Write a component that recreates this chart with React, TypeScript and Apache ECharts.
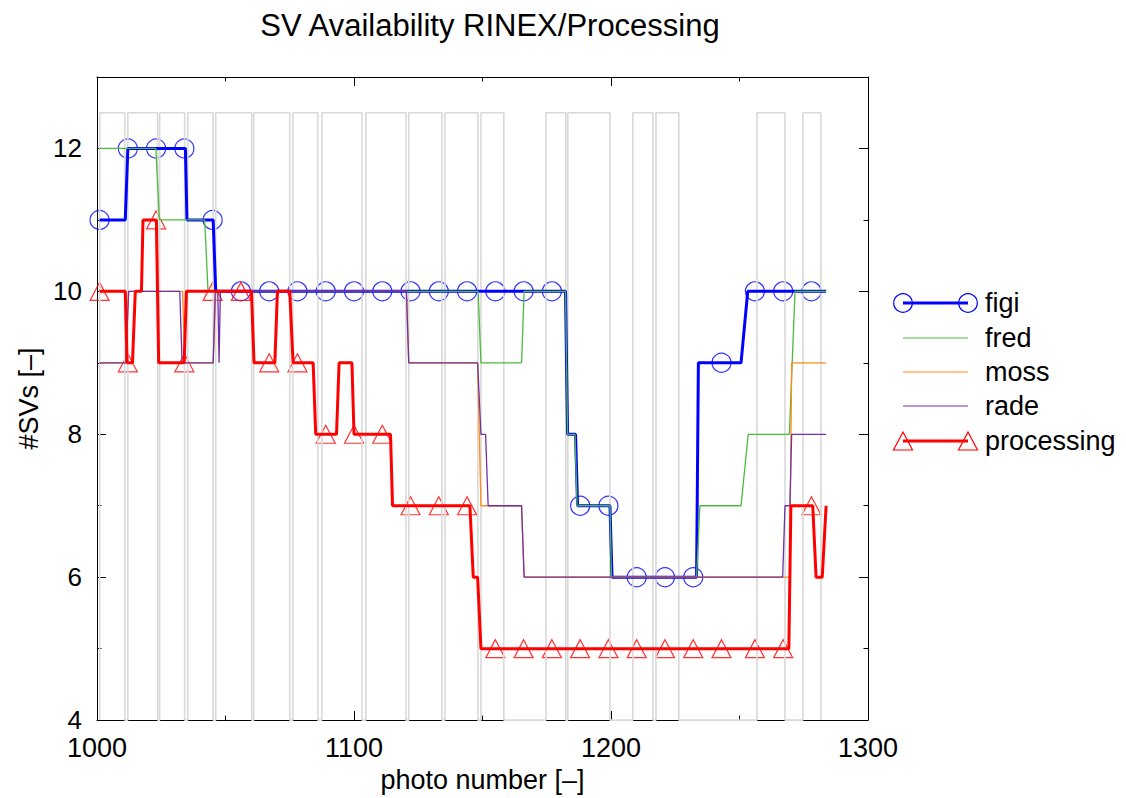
import React, { useEffect, useRef } from "react";
import * as echarts from "echarts";

// ---- data ----
const xMin = 1000;
const xMax = 1300;
const xStep = 100;
const yMin = 4;
const yMax = 13;
const yStep = 2;

// grey data blocks (photo-number ranges), drawn as a step outline at level blockTop
const blockTop = 12.5;
const blockStart = [1001.05, 1012.0, 1024.4, 1035.3, 1046.2, 1061.0, 1076.2, 1087.5, 1104.6, 1121.3, 1135.4, 1149.4, 1174.7, 1183.2, 1208.5, 1217.5, 1256.8, 1274.7];
const blockEnd = [1010.8, 1023.6, 1034.1, 1045.2, 1060.2, 1075.0, 1085.9, 1103.1, 1120.2, 1134.2, 1148.2, 1158.3, 1182.4, 1199.6, 1216.3, 1226.4, 1267.7, 1281.7];

const figiX = [1001, 1011, 1012, 1034.4, 1035, 1045.2, 1046.2, 1182.3, 1183.1, 1186.2, 1187, 1199.6, 1200.4, 1233.3, 1234, 1250.6, 1253.2, 1283.7];
const figiY = [11, 11, 12, 12, 11, 11, 10, 10, 8, 8, 7, 7, 6, 6, 9, 9, 10, 10];

const fredX = [1001, 1022.9, 1024.3, 1041.9, 1043.2, 1148.3, 1149.4, 1165.2, 1166.2, 1182.3, 1183.1, 1186, 1186.8, 1199.6, 1200.2, 1233.3, 1234.6, 1250.6, 1253.4, 1269.4, 1271.6, 1283.7];
const fredY = [12, 12, 11, 11, 10, 10, 9, 9, 10, 10, 8, 8, 7, 7, 6, 6, 7, 7, 8, 8, 10, 10];

const mossX = [1001, 1011.2, 1012.3, 1033.3, 1034.2, 1045.2, 1046.2, 1120.4, 1121.3, 1148.1, 1149.4, 1165.2, 1166.2, 1269.5, 1270.3, 1283.7];
const mossY = [9, 9, 10, 10, 9, 9, 10, 10, 9, 9, 7, 7, 6, 6, 9, 9];

const radeX = [1001, 1011.2, 1012.3, 1032.2, 1033.1, 1045.2, 1046, 1047, 1047.5, 1048, 1120.4, 1121.3, 1148.1, 1149.4, 1151.2, 1152.2, 1165.2, 1166.2, 1266.8, 1267.7, 1269.6, 1270.3, 1283.7];
const radeY = [9, 9, 10, 10, 9, 9, 10, 10, 9, 10, 10, 9, 9, 8, 8, 7, 7, 6, 6, 7, 7, 8, 8];

const procX = [1001, 1011, 1011.7, 1013.8, 1014.9, 1017.3, 1017.9, 1023.1, 1024, 1033.9, 1034.8, 1060.1, 1061.1, 1069.2, 1070.2, 1075, 1076.3, 1084.1, 1085.1, 1093.2, 1094.2, 1099.2, 1100, 1114.2, 1115, 1145.1, 1146.4, 1148.1, 1149.4, 1269.2, 1270, 1278.5, 1279.8, 1282.2, 1283.7];
const procY = [10, 10, 9, 9, 10, 10, 11, 11, 9, 9, 10, 10, 9, 9, 10, 10, 9, 9, 8, 8, 9, 9, 8, 8, 7, 7, 6, 6, 5, 5, 7, 7, 6, 6, 7];

const markerX = [1001, 1012, 1023, 1034, 1045, 1056, 1067, 1078, 1089, 1100, 1111, 1122, 1133, 1144, 1155, 1166, 1177, 1188, 1199, 1210, 1221, 1232, 1243, 1256, 1267, 1278];
const figiMarkY = [11, 12, 12, 12, 11, 10, 10, 10, 10, 10, 10, 10, 10, 10, 10, 10, 10, 7, 7, 6, 6, 6, 9, 10, 10, 10];
const procMarkY = [10, 9, 11, 9, 10, 10, 9, 9, 8, 8, 8, 7, 7, 7, 5, 5, 5, 5, 5, 5, 5, 5, 5, 5, 5, 7];

const seriesNames = ["figi", "fred", "moss", "rade", "processing"];

// ---- styles ----
const FONT = '"Liberation Sans", Arial, Helvetica, sans-serif';
const COLORS = {
  figi: "#0000ff",
  fred: "#4cbb3c",
  moss: "#ff8c1a",
  rade: "#7030a8",
  processing: "#ff0000",
  block: "#d9d9d9",
};

const zip = (xs: number[], ys: number[]) => xs.map((x, i) => [x, ys[i]]);

export default function App() {
  const ref = useRef<HTMLDivElement>(null);

  useEffect(() => {
    if (!ref.current) return;
    const chart = echarts.init(ref.current, undefined, { renderer: "svg" });

    const blockData: number[][] = [];
    blockStart.forEach((s, i) => {
      const e = blockEnd[i];
      blockData.push([s, yMin], [s, blockTop], [e, blockTop], [e, yMin]);
    });

    const axisLine = { show: true, onZero: false, lineStyle: { color: "#000", width: 1 } };
    const tickMajor = { show: true, inside: true, length: 9, lineStyle: { color: "#000", width: 1 } };
    const tickMinor = { show: true, inside: true, length: 4.5, lineStyle: { color: "#000", width: 1 } };

    const lineSeries = (name: string, data: number[][], color: string, width: number) => ({
      type: "line",
      name,
      data,
      showSymbol: false,
      symbol: "none",
      silent: true,
      lineStyle: { color, width },
      itemStyle: { color },
      xAxisIndex: 0,
      yAxisIndex: 0,
    });

    // custom legend, drawn with graphic elements
    const legendX1 = 903;
    const legendX2 = 968;
    const legendTextX = 985;
    const legendRows = [303, 338, 372, 406, 441];
    const legendGraphics: any[] = [];
    seriesNames.forEach((name, i) => {
      const y = legendRows[i];
      const color = (COLORS as any)[name];
      const thick = name === "figi" || name === "processing";
      legendGraphics.push({
        type: "line",
        shape: { x1: legendX1, y1: y, x2: legendX2, y2: y },
        style: { stroke: color, lineWidth: thick ? 3 : 1.2 },
      });
      if (name === "figi") {
        [legendX1, legendX2].forEach((cx) =>
          legendGraphics.push({
            type: "circle",
            shape: { cx, cy: y, r: 9.3 },
            style: { fill: "none", stroke: color, lineWidth: 1.2 },
          })
        );
      }
      if (name === "processing") {
        [legendX1, legendX2].forEach((cx) =>
          legendGraphics.push({
            type: "polygon",
            shape: { points: [[cx, y - 9], [cx + 9.5, y + 9], [cx - 9.5, y + 9]] },
            style: { fill: "none", stroke: color, lineWidth: 1.2 },
          })
        );
      }
      legendGraphics.push({
        type: "text",
        x: legendTextX,
        y,
        style: { text: name, fill: "#000", font: `27px ${FONT}`, verticalAlign: "middle", align: "left" },
      });
    });

    chart.setOption({
      animation: false,
      backgroundColor: "#ffffff",
      title: {
        text: "SV Availability RINEX/Processing",
        left: 485,
        top: 5,
        textAlign: "center",
        textStyle: { color: "#000", fontSize: 31, fontWeight: "normal", fontFamily: FONT },
      },
      grid: { left: 97, right: 258, top: 77, bottom: 76, containLabel: false },
      xAxis: [
        {
          type: "value",
          position: "bottom",
          min: xMin,
          max: xMax,
          interval: xStep,
          axisLine,
          axisTick: tickMajor,
          minorTick: { ...tickMinor, splitNumber: 2 },
          axisLabel: { color: "#000", fontSize: 27, fontFamily: FONT, margin: 14, formatter: (v: number) => String(v) },
          splitLine: { show: false },
          name: "photo number [–]",
          nameLocation: "middle",
          nameGap: 44,
          nameTextStyle: { color: "#000", fontSize: 27, fontFamily: FONT },
        },
        {
          type: "value",
          position: "top",
          min: xMin,
          max: xMax,
          interval: xStep,
          axisLine,
          axisTick: tickMajor,
          minorTick: { ...tickMinor, splitNumber: 2 },
          axisLabel: { show: false },
          splitLine: { show: false },
        },
      ],
      yAxis: [
        {
          type: "value",
          position: "left",
          min: yMin,
          max: yMax,
          interval: yStep,
          axisLine,
          axisTick: tickMajor,
          axisLabel: {
            color: "#000",
            fontSize: 26,
            fontFamily: FONT,
            margin: 15,
            showMaxLabel: false,
            formatter: (v: number) => String(v),
          },
          splitLine: { show: false },
          name: "#SVs [–]",
          nameLocation: "middle",
          nameGap: 39,
          nameRotate: 90,
          nameTextStyle: { color: "#000", fontSize: 27, fontFamily: FONT },
        },
        {
          type: "value",
          position: "left",
          min: yMin,
          max: yMax,
          interval: 1,
          axisLine: { show: false },
          axisTick: tickMinor,
          axisLabel: { show: false },
          splitLine: { show: false },
        },
        {
          type: "value",
          position: "right",
          min: yMin,
          max: yMax,
          interval: yStep,
          axisLine,
          axisTick: tickMajor,
          axisLabel: { show: false },
          splitLine: { show: false },
        },
        {
          type: "value",
          position: "right",
          min: yMin,
          max: yMax,
          interval: 1,
          axisLine: { show: false },
          axisTick: tickMinor,
          axisLabel: { show: false },
          splitLine: { show: false },
        },
      ],
      graphic: legendGraphics,
      series: [
        lineSeries("blocks", blockData, COLORS.block, 1.6),
        lineSeries("figi", zip(figiX, figiY), COLORS.figi, 3),
        lineSeries("fred", zip(fredX, fredY), COLORS.fred, 1.3),
        lineSeries("moss", zip(mossX, mossY), COLORS.moss, 1.3),
        lineSeries("rade", zip(radeX, radeY), COLORS.rade, 1.3),
        lineSeries("processing", zip(procX, procY), COLORS.processing, 3),
        {
          type: "scatter",
          name: "figi markers",
          data: zip(markerX, figiMarkY),
          symbol: "circle",
          symbolSize: 19,
          silent: true,
          itemStyle: { color: "rgba(0,0,0,0)", borderColor: COLORS.figi, borderWidth: 1.2 },
          xAxisIndex: 0,
          yAxisIndex: 0,
        },
        {
          type: "scatter",
          name: "processing markers",
          data: zip(markerX, procMarkY),
          symbol: "triangle",
          symbolSize: [19, 18],
          silent: true,
          itemStyle: { color: "rgba(0,0,0,0)", borderColor: COLORS.processing, borderWidth: 1.2 },
          xAxisIndex: 0,
          yAxisIndex: 0,
        },
      ],
    });

    return () => chart.dispose();
  }, []);

  return (
    <div
      ref={ref}
      style={{ position: "absolute", left: 0, top: 0, width: 1126, height: 798, background: "#fff" }}
    />
  );
}
